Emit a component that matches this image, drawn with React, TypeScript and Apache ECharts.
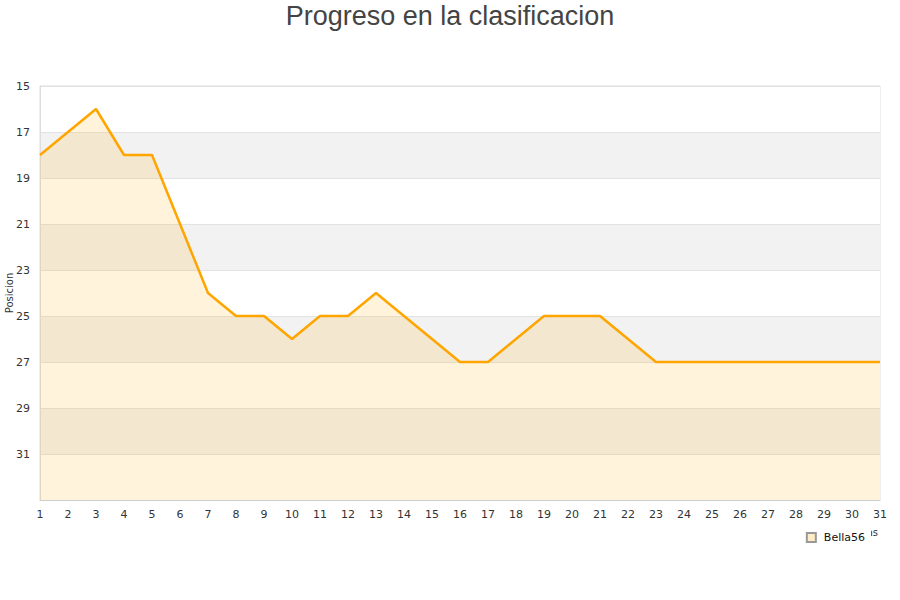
import React, { useEffect, useRef } from "react";
import * as echarts from "echarts";

const TITLE = "Progreso en la clasificacion";
const SERIES_NAME = "Bella56";
const X_NAME = "Jornadas";
const Y_NAME = "Posicion";
const rounds = Array.from({ length: 31 }, (_, i) => String(i + 1));
const positions = [18, 17, 16, 18, 18, 21, 24, 25, 25, 26, 25, 25, 24, 25, 26, 27, 27, 26, 25, 25, 25, 26, 27, 27, 27, 27, 27, 27, 27, 27, 27];
const Y_MIN = 15;
const Y_MAX = 33;
const Y_STEP = 2;

export default function App() {
  const ref = useRef<HTMLDivElement>(null);
  useEffect(() => {
    if (!ref.current) return;
    const chart = echarts.init(ref.current, null, { renderer: "svg" });
    chart.setOption({
      animation: false,
      backgroundColor: "#fff",
      title: {
        text: TITLE,
        left: "center",
        top: -3,
        textStyle: { fontFamily: "Liberation Sans, Arial, sans-serif", fontSize: 27, fontWeight: "normal", color: "#444" },
      },
      grid: {
        left: 40,
        right: 20,
        top: 86,
        bottom: 100,
        containLabel: false,
        outerBoundsMode: "none",
        show: true,
        borderColor: "#ddd",
        borderWidth: 1,
        backgroundColor: "transparent",
      },
      legend: {
        data: [{ name: SERIES_NAME, icon: "rect" }],
        right: 29,
        top: 527,
        itemWidth: 9,
        itemHeight: 9,
        itemGap: 5,
        padding: [5, 6, 3, 4],
        backgroundColor: "#fff",
        textStyle: { fontFamily: "DejaVu Sans, sans-serif", fontSize: 11, color: "#111", padding: [0, 0, 0, 3] },
      },
      xAxis: {
        type: "category",
        data: rounds,
        boundaryGap: false,
        name: X_NAME,
        nameLocation: "end",
        nameGap: 0,
        nameMoveOverlap: false,
        nameTextStyle: { fontFamily: "DejaVu Sans, sans-serif", fontSize: 10, color: "#333", align: "right", verticalAlign: "top", padding: [27, 2, 0, 0] },
        axisLine: { show: true, lineStyle: { color: "#ccc" } },
        axisTick: { show: false },
        axisLabel: { fontFamily: "DejaVu Sans, sans-serif", fontSize: 11, color: "#333", margin: 9, interval: 0 },
        splitLine: { show: false },
      },
      yAxis: {
        type: "value",
        inverse: true,
        min: Y_MIN,
        max: Y_MAX,
        interval: Y_STEP,
        name: Y_NAME,
        nameLocation: "middle",
        nameGap: 26,
        nameMoveOverlap: false,
        nameTextStyle: { fontFamily: "DejaVu Sans, sans-serif", fontSize: 10, color: "#333" },
        axisLine: { show: true, lineStyle: { color: "#ddd" } },
        axisTick: { show: false },
        axisLabel: {
          fontFamily: "DejaVu Sans, sans-serif",
          fontSize: 11,
          color: "#333",
          margin: 10,
          formatter: (v: number) => (v === Y_MAX ? "" : String(v)),
        },
        splitLine: { show: true, lineStyle: { color: "#e2e2e2" } },
        splitArea: { show: true, areaStyle: { color: ["#ffffff", "#f2f2f2"] } },
      },
      series: [
        {
          name: SERIES_NAME,
          type: "line",
          data: positions,
          showSymbol: false,
          symbol: "none",
          lineStyle: { color: "#ffa500", width: 2.5 },
          itemStyle: { color: "#ffecc4", borderColor: "#999", borderWidth: 1 },
          areaStyle: { color: "rgba(255,170,0,0.2)", origin: "end" },
        },
      ],
    });
    return () => chart.dispose();
  }, []);
  return <div ref={ref} style={{ width: 900, height: 600, position: "absolute", left: 0, top: 0 }} />;
}
